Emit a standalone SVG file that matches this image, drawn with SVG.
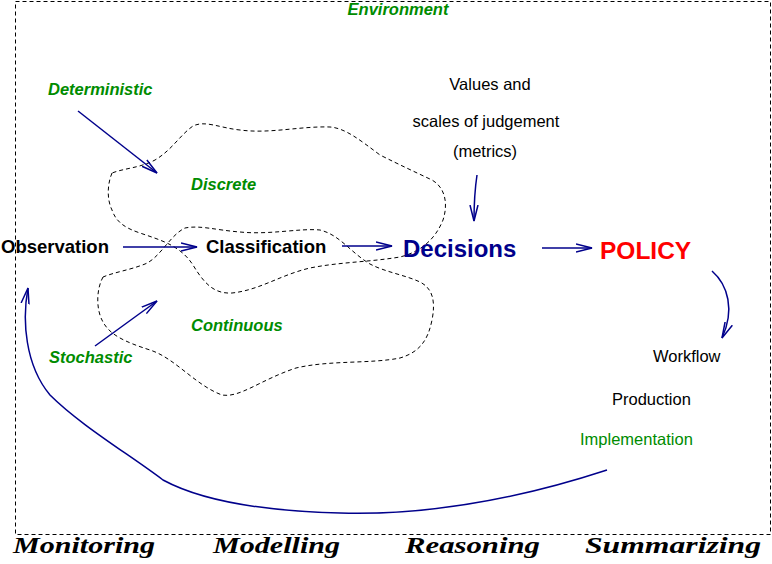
<svg xmlns="http://www.w3.org/2000/svg" width="772" height="564" viewBox="0 0 772 564">
<defs>
<style>
.sans{font-family:"Liberation Sans",Arial,sans-serif}
.lab{font-family:"Liberation Sans",Arial,sans-serif;font-size:16.5px;fill:#000}
.green{fill:#008c00}
.gi{font-family:"Liberation Sans",Arial,sans-serif;font-size:16.5px;font-weight:bold;font-style:italic;fill:#008c00}
.node{font-family:"Liberation Sans",Arial,sans-serif;font-size:18.5px;font-weight:bold;fill:#000}
.phase{font-family:"Liberation Serif","Times New Roman",serif;font-size:23px;font-weight:bold;font-style:italic;fill:#000}
.blob{fill:none;stroke:#000;stroke-width:1;stroke-dasharray:4 3}
.conn{fill:none;stroke:#00008b;stroke-width:1.5}
</style>
<marker id="ah" markerUnits="userSpaceOnUse" markerWidth="20" markerHeight="12" refX="16" refY="5" orient="auto" viewBox="0 0 20 12">
<path d="M0,1 L16,5 L0,9" fill="none" stroke="#00008b" stroke-width="1.5"/>
</marker>
</defs>
<rect x="15.5" y="1.5" width="755" height="533" fill="none" stroke="#000" stroke-width="1" stroke-dasharray="4 3"/>
<text class="gi" x="398" y="15" text-anchor="middle">Environment</text>

<g id="blob-discrete">
<path class="blob" d="M112,173 C107,185 107,200 112,210 C116,222 125,228 140,233 C160,240 180,245 193,265 C205,285 215,294 232,293 C260,290 280,275 310,268 C340,262 370,262 400,257 C420,252 435,240 443,220 C448,205 446,188 432,180 C415,172 400,165 380,155 C360,140 345,128 330,127 C300,126 270,134 240,130 C220,128 205,120 193,126 C180,135 172,150 155,160 C140,168 125,168 112,173 Z"/>
<text class="gi" x="191" y="190">Discrete</text>
</g>
<g id="blob-continuous">
<path class="blob" d="M103,277 C96,290 96,310 103,322 C110,335 125,342 150,350 C175,358 195,385 222,395 C240,398 260,380 296,368 C330,360 370,364 400,358 C420,352 428,340 432,320 C436,300 432,288 420,282 C405,275 385,272 370,264 C350,252 340,235 320,230 C300,228 270,235 240,232 C215,230 200,225 185,228 C170,235 160,258 145,264 C130,270 115,272 103,277 Z"/>
<text class="gi" x="191" y="331">Continuous</text>
</g>

<g id="deterministic"><text class="gi" x="48" y="95">Deterministic</text></g>
<g id="stochastic"><text class="gi" x="49" y="363">Stochastic</text></g>
<g id="observation"><text class="node" x="1" y="253">Observation</text></g>
<g id="classification"><text class="node" x="206" y="253">Classification</text></g>
<g id="decisions"><text class="sans" x="403" y="257" font-size="24px" font-weight="bold" fill="#00008b">Decisions</text></g>
<g id="policy"><text class="sans" x="600" y="259" font-size="24.5px" font-weight="bold" fill="#ff0000">POLICY</text></g>
<g id="values">
<text class="lab" x="490" y="90" text-anchor="middle">Values and</text>
<text class="lab" x="486" y="127" text-anchor="middle">scales of judgement</text>
<text class="lab" x="485" y="157" text-anchor="middle">(metrics)</text>
</g>
<g id="workflow">
<text class="lab" x="653" y="362">Workflow</text>
<text class="lab" x="612" y="405">Production</text>
<text class="lab green" x="580" y="445">Implementation</text>
</g>

<g id="connectors">
<path class="conn" d="M78,111 L157,173" marker-end="url(#ah)"/>
<path class="conn" d="M95,346 L157,301" marker-end="url(#ah)"/>
<path class="conn" d="M123,247 L197,247" marker-end="url(#ah)"/>
<path class="conn" d="M342,246 L392,246" marker-end="url(#ah)"/>
<path class="conn" d="M542,248 L592,248" marker-end="url(#ah)"/>
<path class="conn" d="M477,175 Q474,195 474,221" marker-end="url(#ah)"/>
<path class="conn" d="M712,271 C728,285 735,310 722,338" marker-end="url(#ah)"/>
<path class="conn" d="M607,470 C500,505 410,515 340,513 C260,511 200,500 163,480 C130,455 80,425 50,395 C25,365 22,320 28,288" marker-end="url(#ah)"/>
</g>

<g id="phases">
<text class="phase" x="13" y="553" textLength="142" lengthAdjust="spacingAndGlyphs">Monitoring</text>
<text class="phase" x="213" y="553" textLength="127" lengthAdjust="spacingAndGlyphs">Modelling</text>
<text class="phase" x="405" y="553" textLength="135" lengthAdjust="spacingAndGlyphs">Reasoning</text>
<text class="phase" x="585" y="553" textLength="176" lengthAdjust="spacingAndGlyphs">Summarizing</text>
</g>
</svg>
